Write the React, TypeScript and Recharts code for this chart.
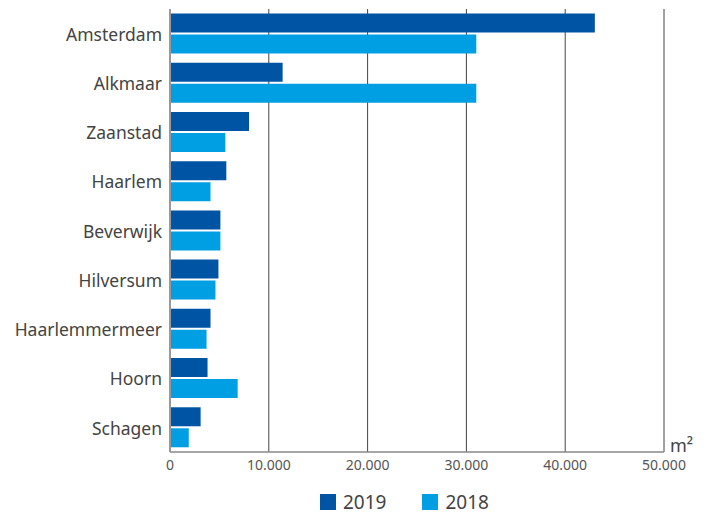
import { BarChart, Bar, XAxis, YAxis, CartesianGrid, Legend } from 'recharts';

const cities = [
  'Amsterdam',
  'Alkmaar',
  'Zaanstad',
  'Haarlem',
  'Beverwijk',
  'Hilversum',
  'Haarlemmermeer',
  'Hoorn',
  'Schagen',
];
const values2019 = [43000, 11400, 8000, 5700, 5100, 4900, 4100, 3800, 3100];
const values2018 = [31000, 31000, 5600, 4100, 5100, 4600, 3700, 6850, 1900];
const xTicks = [0, 10000, 20000, 30000, 40000, 50000];

const COLOR_2019 = '#0054a4';
const COLOR_2018 = '#009fe3';
const FONT = '"Noto Sans", Lato, sans-serif';

const data = cities.map((city, i) => ({
  city,
  y2019: values2019[i],
  y2018: values2018[i],
}));

const formatNumber = (v: number) =>
  v === 0 ? '0' : v.toLocaleString('nl-NL').replace(/,/g, '.');

// legend drawn by hand so the spacing matches
function LegendContent() {
  const items = [
    { label: '2019', color: COLOR_2019 },
    { label: '2018', color: COLOR_2018 },
  ];
  return (
    <div style={{ display: 'flex', alignItems: 'center', fontFamily: FONT }}>
      {items.map((it) => (
        <div
          key={it.label}
          style={{ display: 'flex', alignItems: 'center', marginRight: 36 }}
        >
          <span
            style={{
              display: 'inline-block',
              width: 16,
              height: 16,
              background: it.color,
              marginRight: 7,
            }}
          />
          <span style={{ fontSize: 19, color: '#444', lineHeight: '24px' }}>
            {it.label}
          </span>
        </div>
      ))}
    </div>
  );
}

export default function App() {
  return (
    <div style={{ position: 'absolute', left: 0, top: 0, background: '#fff' }}>
      <BarChart
        width={711}
        height={517}
        data={data}
        layout="vertical"
        margin={{ top: 9, right: 47, bottom: 11, left: 0 }}
        barCategoryGap={4.5}
        barGap={2}
      >
        <CartesianGrid horizontal={false} vertical={true} stroke="#444" />
        <XAxis
          type="number"
          domain={[0, 50000]}
          ticks={xTicks}
          tickFormatter={formatNumber}
          axisLine={{ stroke: '#888', strokeWidth: 1.5 }}
          tickLine={false}
          tick={{ fill: '#555', fontSize: 14, fontFamily: FONT }}
          height={30}
          label={{
            value: 'm²',
            position: 'right',
            offset: 6,
            dy: -21,
            fill: '#444',
            fontSize: 18,
            fontFamily: FONT,
          }}
        />
        <YAxis
          type="category"
          dataKey="city"
          width={170}
          axisLine={{ stroke: '#999', strokeWidth: 2 }}
          tickLine={false}
          tick={{ fill: '#444', fontSize: 17.5, fontFamily: FONT, dy: 1 }}
        />
        <Legend
          verticalAlign="bottom"
          align="left"
          wrapperStyle={{ left: 320, bottom: 3, width: 'auto' }}
          content={() => <LegendContent />}
        />
        <Bar dataKey="y2019" name="2019" fill={COLOR_2019} isAnimationActive={false} />
        <Bar dataKey="y2018" name="2018" fill={COLOR_2018} isAnimationActive={false} />
      </BarChart>
    </div>
  );
}
